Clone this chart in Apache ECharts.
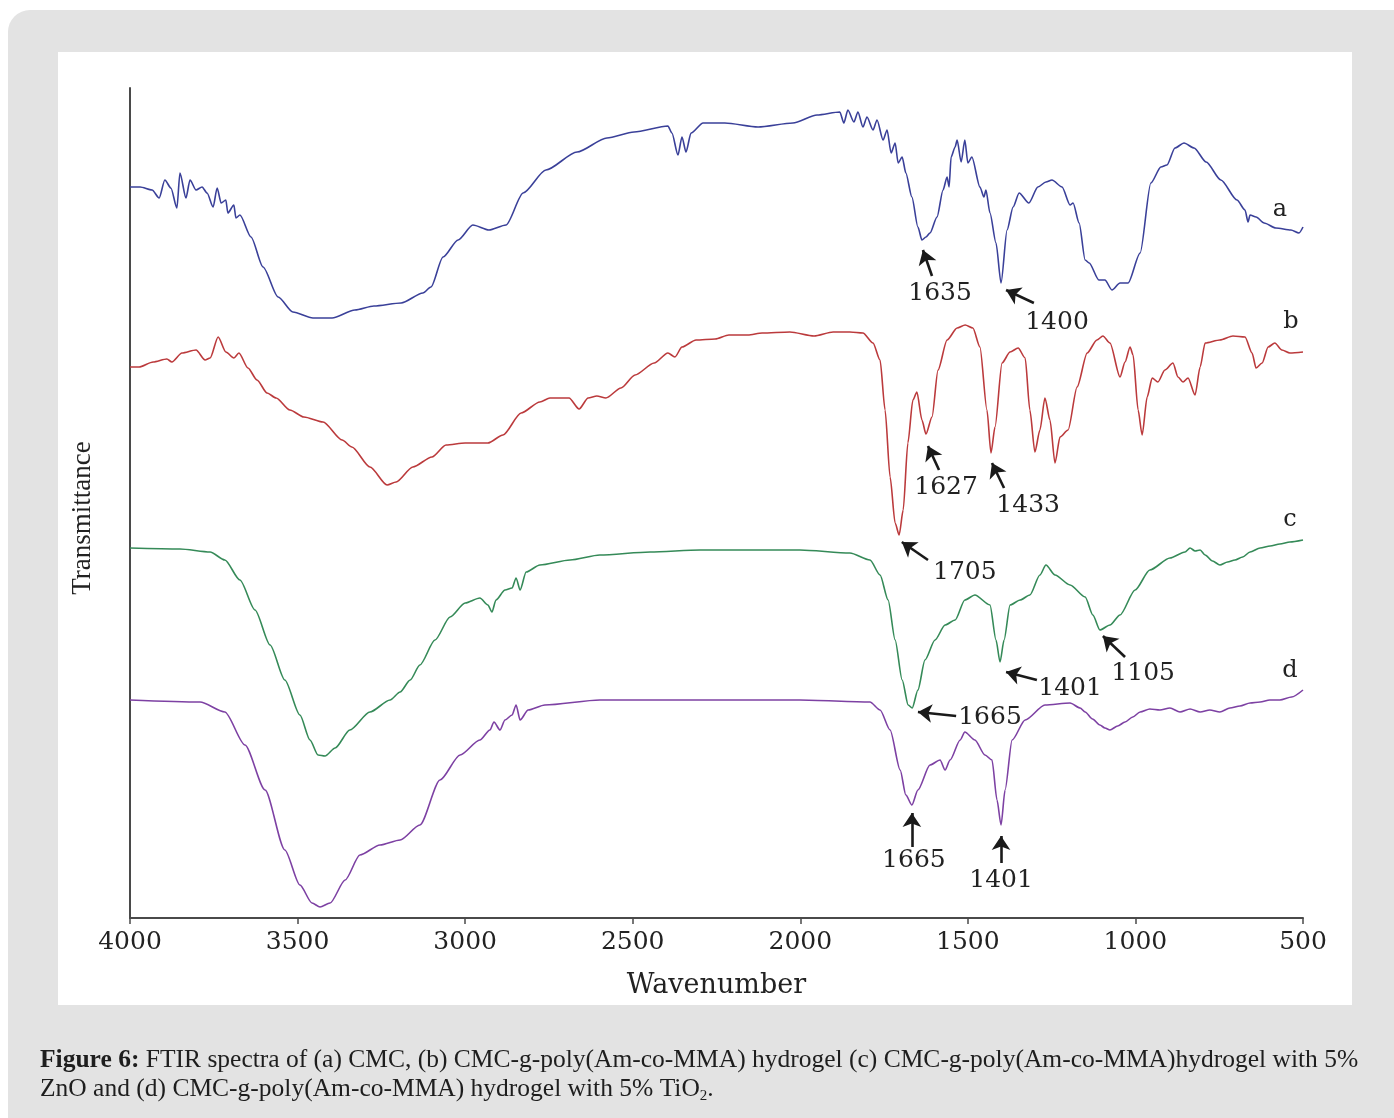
<!DOCTYPE html>
<html>
<head>
<meta charset="utf-8">
<script src="https://cdn.jsdelivr.net/npm/echarts@6/dist/echarts.min.js"></script>
<style>html,body{margin:0;padding:0;background:#fff;}#chart{width:1394px;height:1118px;}</style>
</head>
<body>
<div id="chart"></div>
<script>
// Wavenumber (cm-1) and transmittance (arbitrary, offset units)
const aWave = [4000,3970,3934,3913,3896,3878,3860,3851,3833,3821,3803,3785,3770,3752,3740,3728,3714,3708,3690,3684,3672,3639,3603,3558,3514,3454,3397,3329,3272,3191,3126,3102,3066,3021,2977,2929,2878,2827,2759,2666,2577,2496,2395,2383,2365,2353,2341,2326,2290,2225,2126,2022,1950,1882,1870,1858,1840,1828,1813,1801,1783,1771,1753,1741,1729,1717,1708,1696,1685,1667,1649,1637,1625,1613,1592,1574,1562,1556,1550,1538,1532,1520,1509,1500,1488,1464,1452,1446,1434,1416,1401,1383,1365,1347,1318,1291,1267,1249,1219,1195,1186,1168,1150,1138,1109,1091,1070,1046,1022,986,954,924,906,882,855,825,789,745,697,673,664,658,640,616,581,536,512,500];
const aVal  = [731,731,728,720,738,730,710,745,720,738,728,731,725,711,730,715,718,705,713,700,703,681,651,621,606,600,600,608,612,615,625,631,661,678,693,688,693,725,748,766,780,786,792,785,763,781,766,785,795,795,791,795,803,806,795,808,796,806,791,801,788,798,778,788,765,775,755,761,745,721,691,678,681,685,701,728,741,731,761,771,778,756,778,755,761,731,721,728,705,675,635,688,711,725,715,731,736,738,731,713,715,695,658,655,638,638,628,635,635,665,735,751,753,770,775,770,756,738,718,708,696,703,701,695,690,688,685,691];

const bWave = [4000,3973,3931,3890,3875,3845,3803,3776,3761,3737,3714,3690,3675,3648,3621,3591,3564,3523,3481,3424,3367,3338,3284,3233,3206,3156,3099,3057,3000,2932,2887,2833,2777,2747,2690,2660,2633,2607,2580,2535,2493,2436,2395,2374,2353,2311,2254,2213,2156,2114,2031,1959,1902,1852,1813,1783,1762,1747,1732,1717,1705,1693,1679,1664,1652,1637,1625,1607,1589,1562,1532,1508,1485,1464,1443,1431,1419,1398,1374,1350,1329,1315,1300,1285,1270,1255,1240,1225,1201,1174,1144,1115,1097,1076,1046,1031,1016,1007,992,980,965,950,933,912,888,873,858,843,822,807,792,748,709,673,652,640,622,604,584,563,539,500];
const bVal  = [551,551,556,559,556,565,568,558,560,581,566,560,565,550,538,525,520,508,501,496,478,471,451,433,436,451,461,473,475,475,483,505,516,520,520,509,520,522,520,530,543,555,565,561,571,578,579,583,583,585,586,582,586,586,585,575,558,508,441,395,383,408,475,518,526,498,484,501,548,578,590,593,590,571,508,465,491,555,566,570,560,508,466,488,520,498,455,481,488,531,565,578,582,575,541,556,571,563,508,483,521,540,536,548,555,541,536,540,523,551,575,578,582,581,565,550,555,571,575,568,565,566];

const cWave = [4000,3851,3761,3717,3672,3627,3582,3538,3493,3463,3439,3418,3388,3344,3284,3224,3194,3164,3135,3090,3045,3000,2956,2932,2920,2908,2881,2860,2848,2836,2818,2777,2687,2598,2448,2299,2001,1852,1792,1762,1738,1717,1696,1678,1666,1649,1628,1598,1568,1538,1509,1479,1434,1416,1404,1392,1374,1344,1315,1285,1267,1240,1195,1150,1127,1106,1076,1046,1001,957,897,852,837,822,807,792,770,748,725,703,680,658,628,598,569,539,500];
const cVal  = [370,369,366,358,338,308,273,238,203,178,163,162,170,188,206,218,226,238,253,278,301,315,320,313,306,318,328,330,340,328,346,353,358,363,366,368,368,365,358,343,318,278,238,213,210,228,258,278,293,298,318,323,313,278,256,278,313,318,323,343,353,343,333,321,303,288,293,303,328,348,360,366,370,367,368,363,357,353,356,358,361,366,370,372,374,376,378];

const dWave = [4000,3791,3717,3657,3597,3538,3493,3457,3433,3403,3358,3314,3254,3194,3135,3075,3015,2956,2926,2914,2896,2881,2860,2848,2836,2812,2762,2598,2299,2001,1792,1762,1732,1702,1685,1667,1649,1613,1583,1568,1553,1523,1509,1479,1449,1428,1413,1401,1389,1368,1329,1270,1195,1165,1150,1128,1106,1091,1076,1053,1031,1008,986,957,927,897,867,837,807,778,748,718,688,658,628,599,569,534,500];
const dVal  = [218,216,206,173,128,68,33,15,11,15,38,63,73,78,93,138,163,178,188,196,188,198,203,213,198,208,213,218,218,218,216,208,188,148,123,113,128,153,158,148,158,178,186,178,163,158,118,93,128,178,198,213,215,210,206,199,193,190,188,192,196,201,206,209,208,210,206,209,206,208,206,210,212,215,216,218,218,221,228];

const seriesNames = ['a','b','c','d'];

// Peak annotations: label text, label point, arrow tail, arrow tip (data units)
const annA = [['1635',[1583,625],[1607,642],[1634,668]],['1400',[1234,596],[1303,615],[1386,628]]];
const annB = [['1627',[1565,431],[1586,448],[1619,472]],['1433',[1320,413],[1392,430],[1428,455]],['1705',[1509,346],[1619,358],[1697,376]]];
const annC = [['1105',[977,245],[1031,261],[1097,282]],['1401',[1195,230],[1294,238],[1386,246]],['1665',[1434,201],[1535,202],[1649,206]]];
const annD = [['1665',[1661,58],[1667,71],[1667,105]],['1401',[1401,38],[1401,55],[1401,82]]];
const letterPos = [[569,708],[536,596],[539,398],[539,247]];

const colors = ['#3a4099','#bb3a3c','#358a58','#7d41a3'];
const waves = [aWave,bWave,cWave,dWave];
const vals = [aVal,bVal,cVal,dVal];
const anns = [annA,annB,annC,annD];

const serif = 'DejaVu Serif';
const series = seriesNames.map((nm,i)=>({
  name: nm,
  type: 'line',
  showSymbol: false,
  smooth: 0.25,
  smoothMonotone: 'x',
  data: waves[i].map((w,k)=>[w, vals[i][k]]),
  lineStyle: {color: colors[i], width: 1.6},
  itemStyle: {color: colors[i]},
  z: 3,
  markLine: {
    silent: true,
    symbol: ['none','arrow'],
    symbolSize: 14,
    label: {show:false},
    lineStyle: {color:'#1a1a1a', width:2.6, type:'solid'},
    data: anns[i].map(a=>[{coord:a[2]},{coord:a[3]}])
  },
  markPoint: {
    silent: true,
    symbol: 'circle',
    symbolSize: 0,
    label: {show:true, position:'inside', formatter:'{b}', fontFamily: serif, fontSize: 25, color:'#222'},
    data: anns[i].map(a=>({name:a[0], coord:a[1]})).concat([{name: nm, coord: letterPos[i], label:{fontSize:24}}])
  }
}));

const chart = echarts.init(document.getElementById('chart'), null, {renderer:'canvas'});
chart.setOption({
  animation: false,
  backgroundColor: '#ffffff',
  graphic: [
    {type:'rect', z:-10, shape:{x:8, y:10, width:1420, height:1140, r:22}, style:{fill:'#e3e3e3'}},
    {type:'rect', z:-9, shape:{x:58, y:52, width:1294, height:953}, style:{fill:'#ffffff'}}
  ],
  title: {
    left: 35, top: 1041,
    text: '{b|Figure 6:} FTIR spectra of (a) CMC, (b) CMC-g-poly(Am-co-MMA) hydrogel (c) CMC-g-poly(Am-co-MMA)hydrogel with 5%\nZnO and (d) CMC-g-poly(Am-co-MMA) hydrogel with 5% TiO{sub|2}.',
    textStyle: {
      fontFamily: 'Liberation Serif', fontSize: 25.5, fontWeight: 'normal', color: '#1e1e1e', lineHeight: 29,
      rich: {
        b: {fontFamily: 'Liberation Serif', fontSize: 25.5, fontWeight: 'bold', color: '#1e1e1e', lineHeight: 29},
        sub: {fontFamily: 'Liberation Serif', fontSize: 15, color: '#1e1e1e', lineHeight: 29, padding: [14,0,0,0]}
      }
    }
  },
  grid: {left: 130, right: 91, top: 88, bottom: 200, containLabel: false},
  xAxis: {
    type: 'value', inverse: true, min: 500, max: 4000, interval: 500,
    axisLine: {show: true, lineStyle: {color: '#4a4a4a', width: 2}},
    axisTick: {show: true, length: 6, lineStyle: {color: '#4a4a4a', width: 1.5}},
    splitLine: {show: false},
    axisLabel: {fontFamily: serif, fontSize: 25, color: '#222', margin: 12, showMinLabel: true, showMaxLabel: true,
      formatter: v => String(v)},
    name: 'Wavenumber', nameLocation: 'middle', nameGap: 54,
    nameTextStyle: {fontFamily: serif, fontSize: 27, color: '#222'}
  },
  yAxis: {
    type: 'value', min: 0, max: 830,
    axisLine: {show: true, lineStyle: {color: '#4a4a4a', width: 2}},
    axisTick: {show: false}, axisLabel: {show: false}, splitLine: {show: false},
    name: 'Transmittance', nameLocation: 'middle', nameGap: 34, nameRotate: 90,
    nameTextStyle: {fontFamily: 'Liberation Serif', fontSize: 27, color: '#222', padding: [0, 30, 0, 0]}
  },
  series: series
});
</script>
</body>
</html>
